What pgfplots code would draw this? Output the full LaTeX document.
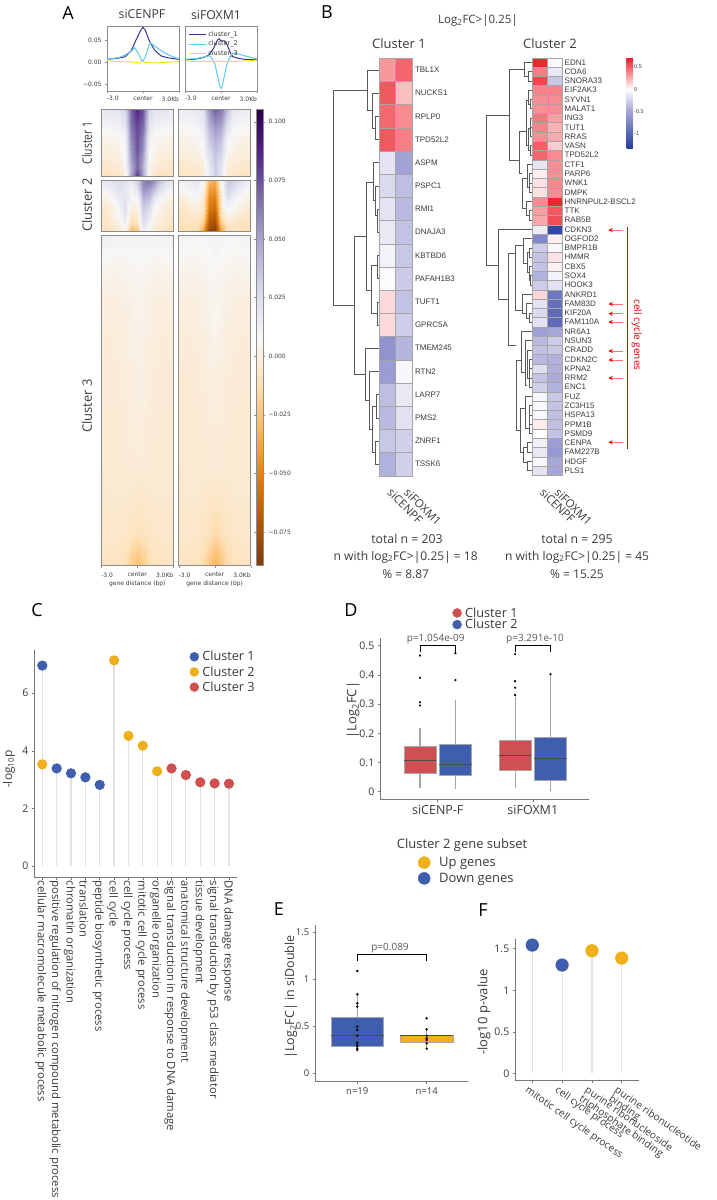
\documentclass[border=0pt]{standalone}
\usepackage{fontspec}
\usepackage{pgfplots}
\pgfplotsset{compat=1.18}
\usepgfplotslibrary{statistics}
\usetikzlibrary{arrows.meta}
\setmainfont{Open Sans}
\newfontfamily\dv{DejaVu Sans}
\newfontfamily\lib{Liberation Sans}
\newcommand{\fs}[1]{\fontsize{#1}{#1}\selectfont}
\newcommand{\tx}[4][]{\node[text=txt,#1] at (#2pt,-#3pt) {#4};}
\newcommand{\lft}[1]{\makebox[0pt][l]{#1}}
\newcommand{\rgt}[1]{\makebox[0pt][r]{#1}}
\definecolor{blueC}{HTML}{3F5FAE}
\definecolor{redC}{HTML}{CF5050}
\definecolor{yelC}{HTML}{F0B01C}
\definecolor{stem}{HTML}{E2E2E2}
\definecolor{axc}{HTML}{777777}
\definecolor{txt}{HTML}{3A3A3A}
\definecolor{frm}{HTML}{8C8C8C}
\definecolor{prof1}{HTML}{3B3591}
\definecolor{prof2}{HTML}{5CC8EE}
\definecolor{prof3}{HTML}{F5E322}
\pgfplotsset{
  colormap={puor}{rgb255=(127,59,8) rgb255=(179,88,6) rgb255=(224,130,20) rgb255=(253,184,99) rgb255=(254,224,182) rgb255=(247,247,247) rgb255=(216,218,235) rgb255=(178,171,210) rgb255=(128,115,172) rgb255=(84,39,136) rgb255=(45,0,75)},
  colormap={bwr}{rgb255(0cm)=(40,62,160); rgb255(0.82cm)=(162,162,214); rgb255(1.32cm)=(255,255,255); rgb255(2.03cm)=(237,28,36)},
  px/.style={scale only axis,anchor=north west},
  /pgfplots/table/hm/.style={header=false,row sep=crcr,x expr={mod(\coordindex,13)},y expr={floor(\coordindex/13)},meta index=0},
  profile/.style={px,width=72pt,height=65pt,xmin=-3,xmax=3,ymin=-0.066,ymax=0.082,xtick={-3,0,3},xticklabels={\lft{-3.0},center,\rgt{3.0Kb}},
    axis line style={draw=frm,line width=0.9pt},tick style={draw=frm,line width=0.5pt},tick align=outside,major tick length=2pt,
    tick label style={font=\dv\fs{6},text=txt},xtick pos=bottom,ytick pos=left,no markers,scaled y ticks=false},
  tss/.style={px,width=72pt,colormap name=puor,point meta min=-0.0894,point meta max=0.1053,xmin=0,xmax=12,y dir=reverse,
    axis line style={draw=frm,line width=1pt},xtick=\empty,ytick=\empty,axis on top},
  tssb/.style={xtick={0,6,12},xticklabels={\lft{-3.0},center,\rgt{3.0Kb}},xtick pos=bottom,tick align=outside,major tick length=2pt,tick style={draw=frm},
    xticklabel style={font=\dv\fs{6},text=txt,yshift=-1.5pt},xlabel={gene distance (bp)},xlabel style={font=\dv\fs{6},text=txt,yshift=3pt}},
  hmap/.style={surf,shader=interp,mesh/cols=13,point meta=explicit},
  genes/.style={px,colormap name=bwr,point meta min=-1.32,point meta max=0.71,xmin=-0.5,xmax=1.5,y dir=reverse,clip=false,
    axis line style={draw=none},xtick={0,1},xticklabels={siCENPF,siFOXM1},
    yticklabel pos=right,major tick length=0pt,
    yticklabel style={font=\lib\fs{8},text=txt,inner sep=1pt,xshift=1.5pt},
    xticklabel style={font=\fs{11.5},text=txt,rotate=-45,anchor=north west,inner sep=0pt,yshift=-4.5pt,xshift=12pt}},
  gmat/.style={scatter,only marks,point meta=explicit,mark=square*,scatter/use mapped color={draw=black!35,fill=mapped color}},
  clean/.style={px,axis lines*=left,axis line style={draw=axc,line width=0.9pt},tick style={draw=axc,line width=0.6pt},
    tick align=outside,major tick length=2.5pt,tick label style={font=\fs{10.5},text=txt},
    /pgf/number format/assume math mode=true,clip=false},
  lolli/.style={ycomb,color=stem,line width=1.2pt,mark=*,mark size=#1,forget plot},
  boxes/.style={boxplot/draw direction=y,boxplot/every whisker/.style={draw=black!35,line width=1.2pt},
    boxplot/every median/.style={draw=black!70,line width=1pt},
    boxplot/every box/.style={draw=black!35,line width=0.7pt},
    boxplot/whisker extend=0pt},
  lgd/.style={legend cell align=left,legend style={draw=none,fill=none,font=\fs{12.7},text=txt,inner sep=0pt,row sep=-1.5pt,
    nodes={inner sep=1pt},/tikz/every odd column/.append style={column sep=2.5pt}}},
}
\begin{document}
\begin{tikzpicture}
\useasboundingbox (0pt,0pt) rectangle (717pt,-1200pt);

% page-sized axis in image pixels: dendrograms and the red marks of panel B
\begin{axis}[at={(0pt,0pt)},anchor=north west,scale only axis,width=717pt,height=1200pt,xmin=0,xmax=717,ymin=0,ymax=1200,y dir=reverse,hide axis,clip=false]
% Cluster 1 tree
\addplot[draw=black!65,line width=0.8pt,unbounded coords=jump,no markers] coordinates {
(367.7,90)(333,90)(333,305)(354,305)(nan,nan)
(379,69.9)(367.7,69.9)(367.7,110)(372.7,110)(nan,nan)
(379,93.1)(372.7,93.1)(372.7,127.9)(375.7,127.9)(nan,nan)
(379,116.3)(375.7,116.3)(375.7,139.5)(379,139.5)(nan,nan)
(366.7,236.7)(354,236.7)(354,374)(365,374)(nan,nan)
(371,182.7)(366.7,182.7)(366.7,290)(371.7,290)(nan,nan)
(373.3,182.7)(371,182.7)(nan,nan)
(379,162.7)(373.3,162.7)(373.3,200)(375,200)(nan,nan)
(379,185.9)(375,185.9)(375,215)(377.3,215)(nan,nan)
(379,209.1)(377.3,209.1)(377.3,232.3)(379,232.3)(nan,nan)
(377,265)(371.7,265)(371.7,313)(377,313)(nan,nan)
(379,255.5)(377,255.5)(377,278.7)(379,278.7)(nan,nan)
(379,301.9)(377,301.9)(377,325.1)(379,325.1)(nan,nan)
(379,348.3)(365,348.3)(365,400)(369,400)(nan,nan)
(379,371.5)(369,371.5)(369,429)(372.3,429)(nan,nan)
(376,406.7)(372.3,406.7)(372.3,452)(375,452)(nan,nan)
(379,394.7)(376,394.7)(376,417.9)(379,417.9)(nan,nan)
(379,441.1)(375,441.1)(375,464.3)(379,464.3)(nan,nan)
};
% Cluster 2 tree
\addplot[draw=black!65,line width=0.8pt,unbounded coords=jump,no markers] coordinates {
(509,115)(486,115)(486,265)(498.3,265)(nan,nan)
(524.3,69)(509,69)(509,160.7)(519.3,160.7)(nan,nan)
(532.3,62.3)(524.3,62.3)(524.3,76)(528,76)(nan,nan)
(532.3,71.6)(528,71.6)(528,80.9)(532.3,80.9)(nan,nan)
(526,131)(519.3,131)(519.3,173.3)(522,173.3)(nan,nan)
(528.5,100)(526,100)(526,145)(528,145)(nan,nan)
(532.3,90.1)(528.5,90.1)(528.5,104)(530,104)(nan,nan)
(532.3,99.4)(530,99.4)(530,108.7)(532.3,108.7)(nan,nan)
(530,128)(528,128)(528,150)(530,150)(nan,nan)
(532.3,118)(530,118)(530,136.5)(532.3,136.5)(nan,nan)
(532.3,127.3)(530,127.3)(nan,nan)
(532.3,145.8)(530,145.8)(530,155.1)(532.3,155.1)(nan,nan)
(527.5,178)(522,178)(522,208)(526,208)(nan,nan)
(532.3,164.4)(527.5,164.4)(527.5,187)(529.5,187)(nan,nan)
(532.3,173.7)(529.5,173.7)(529.5,192.2)(532.3,192.2)(nan,nan)
(532.3,183)(529.5,183)(nan,nan)
(532.3,201.5)(526,201.5)(526,215)(529,215)(nan,nan)
(532.3,210.8)(529,210.8)(529,220.1)(532.3,220.1)(nan,nan)
(532.3,229.3)(498.3,229.3)(498.3,299.3)(508.3,299.3)(nan,nan)
(515,253)(508.3,253)(508.3,345)(516,345)(nan,nan)
(523.3,245)(515,245)(515,310)(522,310)(nan,nan)
(532.3,238.6)(523.3,238.6)(523.3,263)(527,263)(nan,nan)
(529,252)(527,252)(527,272)(529,272)(nan,nan)
(532.3,247.9)(529,247.9)(529,257.2)(532.3,257.2)(nan,nan)
(532.3,266.5)(529,266.5)(529,280)(530.5,280)(nan,nan)
(532.3,275.7)(530.5,275.7)(530.5,285)(532.3,285)(nan,nan)
(532.3,294.3)(522,294.3)(522,313)(526,313)(nan,nan)
(532.3,303.6)(526,303.6)(526,318)(529,318)(nan,nan)
(532.3,312.9)(529,312.9)(529,322.2)(532.3,322.2)(nan,nan)
(521,360)(516,360)(516,430)(520,430)(nan,nan)
(532.3,331.4)(521,331.4)(521,372)(525,372)(nan,nan)
(532.3,340.7)(525,340.7)(525,385)(527,385)(nan,nan)
(532.3,350)(527,350)(527,377.9)(529,377.9)(nan,nan)
(532.3,359.3)(529,359.3)(529,387.1)(532.3,387.1)(nan,nan)
(532.3,368.6)(529,368.6)(nan,nan)
(532.3,377.9)(529,377.9)(nan,nan)
(525,408)(520,408)(520,452)(523,452)(nan,nan)
(532.3,396.4)(525,396.4)(525,428)(529,428)(nan,nan)
(532.3,405.7)(529,405.7)(529,433.6)(532.3,433.6)(nan,nan)
(532.3,415)(529,415)(nan,nan)
(532.3,424.3)(529,424.3)(nan,nan)
(527,447)(523,447)(523,462)(527,462)(nan,nan)
(532.3,442.8)(527,442.8)(527,452.1)(532.3,452.1)(nan,nan)
(532.3,461.4)(527,461.4)(527,470.7)(532.3,470.7)(nan,nan)
};
% red gene marks
\addplot[red!90!black,line width=1.2pt,no markers] coordinates {(627.7,226.7)(627.7,448.7)};
\addplot[red!55,line width=0.7pt,no markers,-{Stealth[red,length=4.5pt,width=4pt]}] coordinates {(622.7,230)(608.3,230)};
\addplot[red!55,line width=0.7pt,no markers,-{Stealth[red,length=4.5pt,width=4pt]}] coordinates {(622.7,304)(608.3,304)};
\addplot[red!55,line width=0.7pt,no markers,-{Stealth[red,length=4.5pt,width=4pt]}] coordinates {(622.7,313.7)(608.3,313.7)};
\addplot[red!55,line width=0.7pt,no markers,-{Stealth[red,length=4.5pt,width=4pt]}] coordinates {(622.7,322)(608.3,322)};
\addplot[red!55,line width=0.7pt,no markers,-{Stealth[red,length=4.5pt,width=4pt]}] coordinates {(622.7,351)(608.3,351)};
\addplot[red!55,line width=0.7pt,no markers,-{Stealth[red,length=4.5pt,width=4pt]}] coordinates {(622.7,360)(608.3,360)};
\addplot[red!55,line width=0.7pt,no markers,-{Stealth[red,length=4.5pt,width=4pt]}] coordinates {(622.7,378)(608.3,378)};
\addplot[red!55,line width=0.7pt,no markers,-{Stealth[red,length=4.5pt,width=4pt]}] coordinates {(622.7,442.3)(608.3,442.3)};
\end{axis}

% A: average profiles
\begin{axis}[profile,at={(107pt,-26pt)},ytick={-0.05,0,0.05},yticklabels={−0.05,0.00,0.05}]
\addplot[prof1,line width=1pt] coordinates {(-3,.006)(-2,.009)(-1.5,.012)(-1,.025)(-.5,.055)(-.2,.072)(0,.079)(.2,.072)(.5,.05)(.8,.035)(1,.026)(1.5,.014)(2,.01)(3,.006)};
\addplot[prof2,line width=1pt] coordinates {(-3,.006)(-2,.01)(-1.5,.016)(-1,.024)(-.7,.033)(-.4,.02)(-.1,.003)(0,.003)(.2,.012)(.4,.03)(.6,.044)(1,.036)(1.5,.026)(2,.018)(2.5,.012)(3,.007)};
\addplot[prof3,line width=1pt] coordinates {(-3,.002)(-1,.0)(-.3,-.002)(0,.002)(.3,-.001)(1,-.002)(3,.001)};
\end{axis}
\begin{axis}[profile,at={(185pt,-26pt)},ytick=\empty,legend cell align=left,
  legend style={at={(0.0,0.98)},anchor=north west,draw=none,fill=none,font=\dv\fs{6.5},text=txt,row sep=-1pt}]
\addplot[prof1,line width=1pt] coordinates {(-3,.005)(-2,.007)(-1.5,.010)(-1,.016)(-.6,.032)(-.3,.05)(-.15,.053)(0,.048)(.3,.048)(.5,.04)(.8,.02)(1,.012)(1.5,.008)(2,.006)(3,.005)};
\addlegendentry{cluster\_1}
\addplot[prof2,line width=1pt] coordinates {(-3,.006)(-2,.008)(-1.5,.011)(-1,.014)(-.8,.01)(-.5,-.005)(-.3,-.03)(-.1,-.055)(0,-.06)(.1,-.055)(.3,-.03)(.5,-.005)(.8,.015)(1,.02)(1.5,.018)(2,.014)(3,.007)};
\addlegendentry{cluster\_2}
\addplot[prof3,line width=1pt] coordinates {(-3,.002)(-1,.001)(-.3,.001)(0,.002)(.3,.001)(1,.001)(3,.004)};
\addlegendentry{cluster\_3}
\end{axis}

% A: heatmaps, rows run from the top of each block
\begin{axis}[tss,at={(101.3pt,-109.3pt)},height=67.4pt,ymin=0,ymax=7]
\addplot[hmap] table[hm] {
.018\\.018\\.020\\.022\\.030\\.070\\.086\\.074\\.030\\.022\\.020\\.018\\.018\\
.014\\.014\\.015\\.016\\.024\\.068\\.082\\.070\\.024\\.016\\.015\\.014\\.014\\
.008\\.008\\.010\\.011\\.018\\.064\\.078\\.066\\.018\\.011\\.010\\.008\\.008\\
.003\\.004\\.005\\.006\\.012\\.060\\.076\\.060\\.012\\.006\\.005\\.004\\.003\\
.001\\.001\\.002\\.004\\.010\\.056\\.075\\.056\\.010\\.004\\.002\\.001\\.001\\
-.002\\-.002\\.000\\.002\\.008\\.052\\.072\\.050\\.008\\.002\\.000\\-.002\\-.002\\
-.005\\-.005\\-.004\\-.002\\.006\\.046\\.070\\.044\\.005\\-.002\\-.004\\-.005\\-.005\\
-.009\\-.009\\-.009\\-.008\\.000\\.050\\.085\\.050\\.000\\-.008\\-.009\\-.009\\-.009\\
};
\end{axis}
\begin{axis}[tss,at={(178.7pt,-109.3pt)},height=67.4pt,ymin=0,ymax=7]
\addplot[hmap] table[hm] {
.015\\.015\\.016\\.018\\.022\\.055\\.072\\.065\\.040\\.018\\.016\\.015\\.015\\
.012\\.012\\.013\\.014\\.018\\.048\\.062\\.056\\.030\\.014\\.013\\.012\\.012\\
.007\\.007\\.008\\.010\\.014\\.040\\.052\\.046\\.020\\.010\\.008\\.007\\.007\\
.003\\.003\\.005\\.006\\.010\\.034\\.046\\.038\\.012\\.006\\.005\\.003\\.003\\
.001\\.001\\.002\\.004\\.008\\.028\\.040\\.032\\.008\\.004\\.002\\.001\\.001\\
-.002\\-.002\\.000\\.001\\.005\\.022\\.036\\.026\\.005\\.001\\.000\\-.002\\-.002\\
-.005\\-.005\\-.004\\-.003\\.000\\.018\\.032\\.020\\.000\\-.003\\-.004\\-.005\\-.005\\
-.008\\-.008\\-.008\\-.007\\-.002\\.015\\.034\\.018\\-.002\\-.007\\-.008\\-.008\\-.008\\
};
\end{axis}
\begin{axis}[tss,at={(101.3pt,-180pt)},height=51.7pt,ymin=0,ymax=6]
\addplot[hmap] table[hm] {
.018\\.020\\.024\\.026\\.024\\.018\\.030\\.062\\.065\\.055\\.035\\.024\\.018\\
.010\\.012\\.018\\.024\\.018\\.010\\.022\\.056\\.052\\.036\\.020\\.014\\.010\\
.003\\.005\\.010\\.018\\.022\\.006\\.010\\.046\\.040\\.020\\.010\\.006\\.003\\
-.003\\-.002\\.003\\.012\\.024\\.002\\.002\\.036\\.028\\.008\\.003\\.000\\-.003\\
-.005\\-.004\\.001\\.008\\.020\\-.004\\-.002\\.030\\.020\\.005\\.001\\-.003\\-.005\\
-.007\\-.006\\-.002\\.003\\.014\\-.012\\-.008\\.024\\.012\\.001\\-.002\\-.005\\-.007\\
-.010\\-.009\\-.007\\-.004\\.002\\-.032\\-.028\\.016\\.005\\-.004\\-.007\\-.009\\-.010\\
};
\end{axis}
\begin{axis}[tss,at={(178.7pt,-180pt)},height=51.7pt,ymin=0,ymax=6]
\addplot[hmap] table[hm] {
.012\\.014\\.018\\.020\\.010\\-.030\\-.035\\.006\\.034\\.032\\.025\\.018\\.014\\
.006\\.008\\.012\\.014\\.004\\-.040\\-.042\\.002\\.030\\.024\\.016\\.010\\.008\\
.000\\.002\\.006\\.008\\-.002\\-.048\\-.050\\-.002\\.022\\.015\\.008\\.004\\.002\\
-.005\\-.004\\.000\\.002\\-.006\\-.054\\-.058\\-.004\\.012\\.008\\.003\\.000\\-.004\\
-.008\\-.007\\-.004\\-.003\\-.010\\-.060\\-.066\\-.008\\.006\\.002\\-.002\\-.004\\-.007\\
-.010\\-.010\\-.008\\-.008\\-.022\\-.070\\-.076\\-.022\\-.005\\-.005\\-.007\\-.008\\-.010\\
-.012\\-.012\\-.012\\-.015\\-.040\\-.082\\-.088\\-.040\\-.012\\-.010\\-.010\\-.012\\-.012\\
};
\end{axis}
\begin{axis}[tss,tssb,at={(101.3pt,-235pt)},height=330.7pt,ymin=0,ymax=10]
\addplot[hmap] table[hm] {
.014\\.013\\.012\\.012\\.011\\.011\\.012\\.011\\.011\\.012\\.012\\.013\\.014\\
.005\\.005\\.004\\.004\\.005\\.006\\.007\\.006\\.005\\.004\\.004\\.005\\.005\\
.001\\.001\\.001\\.001\\.002\\.003\\.005\\.003\\.002\\.001\\.001\\.001\\.001\\
-.001\\-.001\\-.001\\.000\\.001\\.003\\.004\\.003\\.001\\.000\\-.001\\-.001\\-.001\\
-.002\\-.002\\-.002\\-.001\\.000\\.001\\.002\\.001\\.000\\-.001\\-.002\\-.002\\-.002\\
-.002\\-.002\\-.002\\-.002\\-.001\\.001\\.002\\.001\\-.001\\-.002\\-.002\\-.002\\-.002\\
-.003\\-.003\\-.003\\-.002\\-.002\\-.001\\.000\\-.001\\-.002\\-.002\\-.003\\-.003\\-.003\\
-.003\\-.003\\-.003\\-.003\\-.002\\-.002\\-.001\\-.002\\-.002\\-.003\\-.003\\-.003\\-.003\\
-.004\\-.004\\-.004\\-.004\\-.004\\-.005\\-.006\\-.005\\-.004\\-.004\\-.004\\-.004\\-.004\\
-.005\\-.005\\-.005\\-.005\\-.006\\-.008\\-.010\\-.008\\-.006\\-.005\\-.005\\-.005\\-.005\\
-.008\\-.008\\-.008\\-.009\\-.012\\-.022\\-.028\\-.022\\-.012\\-.009\\-.008\\-.008\\-.008\\
};
\end{axis}
\begin{axis}[tss,tssb,at={(178.7pt,-235pt)},height=330.7pt,ymin=0,ymax=10,
  colorbar,colorbar style={at={(1.075,0)},anchor=south west,scale only axis,width=7pt,height=456.4pt,
    ytick={-0.075,-0.05,-0.025,0,0.025,0.05,0.075,0.1},yticklabels={−0.075,−0.050,−0.025,0.000,0.025,0.050,0.075,0.100},
    yticklabel pos=right,tick align=outside,major tick length=2pt,xtick=\empty,xlabel={},
    yticklabel style={font=\dv\fs{6},text=txt},axis line style={draw=frm,line width=0.5pt},tick style={draw=frm}}]
\addplot[hmap] table[hm] {
.011\\.011\\.010\\.010\\.010\\.011\\.012\\.011\\.010\\.010\\.010\\.011\\.011\\
.005\\.005\\.004\\.004\\.005\\.006\\.008\\.006\\.005\\.004\\.004\\.005\\.005\\
.001\\.001\\.001\\.001\\.002\\.004\\.006\\.004\\.002\\.001\\.001\\.001\\.001\\
-.001\\-.001\\-.001\\.000\\.001\\.003\\.005\\.003\\.001\\.000\\-.001\\-.001\\-.001\\
-.002\\-.002\\-.002\\-.002\\-.001\\.001\\.002\\.001\\-.001\\-.002\\-.002\\-.002\\-.002\\
-.003\\-.003\\-.002\\-.002\\-.002\\.000\\.001\\.000\\-.002\\-.002\\-.002\\-.003\\-.003\\
-.003\\-.003\\-.003\\-.003\\-.002\\-.002\\-.001\\-.002\\-.002\\-.003\\-.003\\-.003\\-.003\\
-.003\\-.003\\-.003\\-.003\\-.003\\-.002\\-.002\\-.002\\-.003\\-.003\\-.003\\-.003\\-.003\\
-.004\\-.004\\-.004\\-.004\\-.005\\-.006\\-.008\\-.006\\-.005\\-.004\\-.004\\-.004\\-.004\\
-.005\\-.005\\-.005\\-.006\\-.007\\-.010\\-.014\\-.010\\-.007\\-.006\\-.005\\-.005\\-.005\\
-.008\\-.008\\-.008\\-.010\\-.014\\-.024\\-.034\\-.024\\-.014\\-.010\\-.008\\-.008\\-.008\\
};
\end{axis}

% B: gene heatmaps (siCENPF, siFOXM1 per row)
\begin{axis}[genes,at={(379pt,-58.3pt)},width=33.3pt,height=417.4pt,ymin=-0.5,ymax=17.5,ytick={0,...,17},
  yticklabels={TBL1X,NUCKS1,RPLP0,TPD52L2,ASPM,PSPC1,RMI1,DNAJA3,KBTBD6,PAFAH1B3,TUFT1,GPRC5A,TMEM245,RTN2,LARP7,PMS2,ZNRF1,TSSK6}]
\addplot[gmat,mark size=8.33pt,mark options={yscale=1.393,line width=0.4pt}] coordinates {
(0,0)[.32](1,0)[.48](0,1)[.52](1,1)[.20](0,2)[.47](1,2)[.36](0,3)[.52](1,3)[.40]
(0,4)[-.15](1,4)[-.50](0,5)[-.20](1,5)[-.35](0,6)[-.15](1,6)[-.37](0,7)[-.12](1,7)[-.33]
(0,8)[-.07](1,8)[-.30](0,9)[-.02](1,9)[-.28](0,10)[.12](1,10)[-.33](0,11)[.12](1,11)[-.27]
(0,12)[-.62](1,12)[-.40](0,13)[-.55](1,13)[-.05](0,14)[-.35](1,14)[-.12](0,15)[-.37](1,15)[-.16]
(0,16)[-.30](1,16)[-.25](0,17)[-.42](1,17)[-.25]
};
\end{axis}
\begin{axis}[genes,at={(532.3pt,-57.7pt)},width=29.7pt,height=417.6pt,ymin=-0.5,ymax=44.5,ytick={0,...,44},
  yticklabels={EDN1,COA6,SNORA33,EIF2AK3,SYVN1,MALAT1,ING3,TUT1,RRAS,VASN,TPD52L2,CTF1,PARP6,WNK1,DMPK,HNRNPUL2-BSCL2,TTK,RAB5B,CDKN3,OGFOD2,BMPR1B,HMMR,CBX5,SOX4,HOOK3,ANKRD1,FAM83D,KIF20A,FAM110A,NR6A1,NSUN3,CRADD,CDKN2C,KPNA2,RRM2,ENC1,FUZ,ZC3H15,HSPA13,PPM1B,PSMD9,CENPA,FAM227B,HDGF,PLS1},
  colorbar,colorbar style={at={(3.178,1)},anchor=north west,scale only axis,width=6.3pt,height=90.3pt,
    ytick={-1,-0.5,0,0.5},yticklabels={-1,-0.5,0,0.5},yticklabel pos=right,major tick length=0pt,axis line style={draw=none},
    yticklabel style={font=\lib\fs{5.5},text=txt,inner sep=1pt}}]
\addplot[gmat,mark size=7.42pt,mark options={yscale=0.625,line width=0.4pt}] coordinates {
(0,0)[.68](1,0)[-.03](0,1)[.40](1,1)[-.12](0,2)[.58](1,2)[-.30](0,3)[.38](1,3)[.38]
(0,4)[.35](1,4)[.36](0,5)[.34](1,5)[.35](0,6)[.42](1,6)[.30](0,7)[.38](1,7)[.24]
(0,8)[.35](1,8)[.26](0,9)[.50](1,9)[.15](0,10)[.48](1,10)[.36](0,11)[-.14](1,11)[.35]
(0,12)[.05](1,12)[.35](0,13)[.09](1,13)[.37](0,14)[.09](1,14)[.36](0,15)[.36](1,15)[.68]
(0,16)[.30](1,16)[.52](0,17)[.27](1,17)[.55](0,18)[-.10](1,18)[-1.25](0,19)[-.72](1,19)[.05]
(0,20)[-.27](1,20)[-.03](0,21)[-.32](1,21)[.09](0,22)[-.32](1,22)[.05](0,23)[-.42](1,23)[-.07]
(0,24)[-.27](1,24)[-.15](0,25)[.13](1,25)[-.85](0,26)[-.15](1,26)[-.90](0,27)[-.20](1,27)[-.95]
(0,28)[-.15](1,28)[-.95](0,29)[-.52](1,29)[-.48](0,30)[-.37](1,30)[-.27](0,31)[-.33](1,31)[-.30]
(0,32)[-.38](1,32)[-.42](0,33)[-.17](1,33)[-.43](0,34)[-.32](1,34)[-.45](0,35)[-.25](1,35)[-.42]
(0,36)[-.05](1,36)[-.30](0,37)[-.03](1,37)[-.32](0,38)[-.03](1,38)[-.34](0,39)[.06](1,39)[-.34]
(0,40)[.01](1,40)[-.32](0,41)[-.08](1,41)[-.55](0,42)[-.12](1,42)[-.58](0,43)[-.03](1,43)[-.47]
(0,44)[-.15](1,44)[-.48]
};
\end{axis}

% C
\begin{axis}[clean,at={(34.3pt,-650pt)},width=203pt,height=227pt,xmin=-0.557,xmax=13.58,ymin=-0.38,ymax=7.5,ytick={0,2,4,6},
  xtick={0,...,13},xticklabels={cellular macromolecule metabolic process,positive regulation of nitrogen compound metabolic process,chromatin organization,translation,peptide biosynthetic process,cell cycle,cell cycle process,mitotic cell cycle process,organelle organization,signal transduction in response to DNA damage,anatomical structure development,tissue development,signal transduction by p53 class mediator,DNA damage response},
  xticklabel style={font=\fs{11.3},rotate=-90,anchor=west,inner sep=1pt,text=txt,yshift=-1.5pt},
  lgd,legend style={at={(0.765,1.0)},anchor=north west,row sep=2pt}]
\addplot[lolli=4.5pt,mark options={fill=blueC,draw=blueC}] coordinates {(0,6.96)(1,3.39)(2,3.22)(3,3.08)(4,2.82)};
\addplot[lolli=4.5pt,mark options={fill=yelC,draw=yelC}] coordinates {(0,3.53)(5,7.14)(6,4.52)(7,4.18)(8,3.29)};
\addplot[lolli=4.5pt,mark options={fill=redC,draw=redC}] coordinates {(9,3.39)(10,3.16)(11,2.91)(12,2.87)(13,2.86)};
\addlegendimage{only marks,mark=*,mark size=4.5pt,mark options={fill=blueC,draw=blueC}}\addlegendentry{Cluster 1}
\addlegendimage{only marks,mark=*,mark size=4.5pt,mark options={fill=yelC,draw=yelC}}\addlegendentry{Cluster 2}
\addlegendimage{only marks,mark=*,mark size=4.5pt,mark options={fill=redC,draw=redC}}\addlegendentry{Cluster 3}
\end{axis}

% D
\begin{axis}[clean,boxes,at={(380.3pt,-638.3pt)},width=209pt,height=160.7pt,xmin=0.396,xmax=2.594,ymin=-0.025,ymax=0.525,
  ytick={0,0.1,0.2,0.3,0.4,0.5},yticklabels={0,0.1,0.2,0.3,0.4,0.5},xtick={1,2},xticklabels={siCENP-F,siFOXM1},
  xticklabel style={font=\fs{12.5}},lgd,legend style={at={(0.345,1.2)},anchor=north west}]
\addplot[forget plot,boxplot prepared={draw position=0.814,lower whisker=.0126,lower quartile=.064,median=.107,upper quartile=.156,upper whisker=.219,box extend=.34},fill=redC,mark=*,mark size=0.9pt,mark options={black}] coordinates {(0,.466)(0,.39)(0,.306)(0,.295)};
\addplot[forget plot,boxplot prepared={draw position=1.186,lower whisker=.009,lower quartile=.056,median=.092,upper quartile=.163,upper whisker=.314,box extend=.34},fill=blueC,mark=*,mark size=0.9pt,mark options={black}] coordinates {(0,.474)(0,.382)};
\addplot[forget plot,boxplot prepared={draw position=1.814,lower whisker=.0126,lower quartile=.074,median=.124,upper quartile=.175,upper whisker=.325,box extend=.34},fill=redC,mark=*,mark size=0.9pt,mark options={black}] coordinates {(0,.471)(0,.378)(0,.356)(0,.331)};
\addplot[forget plot,boxplot prepared={draw position=2.186,lower whisker=.003,lower quartile=.04,median=.115,upper quartile=.185,upper whisker=.40,box extend=.34},fill=blueC,mark=*,mark size=0.9pt,mark options={black}] coordinates {(0,.402)};
\addplot[forget plot,black,line width=1pt,no markers] coordinates {(0.814,.478)(0.814,.5)(1.186,.5)(1.186,.478)};
\addplot[forget plot,black,line width=1pt,no markers] coordinates {(1.814,.478)(1.814,.5)(2.186,.5)(2.186,.478)};
\addlegendimage{only marks,mark=*,mark size=4.5pt,mark options={fill=redC,draw=redC}}\addlegendentry{Cluster 1}
\addlegendimage{only marks,mark=*,mark size=4.5pt,mark options={fill=blueC,draw=blueC}}\addlegendentry{Cluster 2}
\end{axis}

% legend of the E/F colours
\begin{axis}[px,at={(418pt,-856pt)},width=90pt,height=30pt,hide axis,xmin=0,xmax=1,ymin=0,ymax=1,lgd,
  legend style={at={(0,1)},anchor=north west,row sep=3pt,font=\fs{13},/tikz/every odd column/.append style={column sep=8pt}}]
\addlegendimage{only marks,mark=*,mark size=6pt,mark options={fill=yelC,draw=yelC}}\addlegendentry{Up genes}
\addlegendimage{only marks,mark=*,mark size=6pt,mark options={fill=blueC,draw=blueC}}\addlegendentry{Down genes}
\end{axis}

% E
\begin{axis}[clean,boxes,at={(315.3pt,-925pt)},width=153pt,height=156.3pt,xmin=0.395,xmax=2.6,ymin=-0.085,ymax=1.574,
  ytick={0,0.5,1,1.5},yticklabels={0,0.5,1,1.5},xtick={1,2},xticklabels={n=19,n=14},tick label style={font=\fs{9.5}}]
\addplot[boxplot prepared={draw position=1,lower whisker=.29,lower quartile=.29,median=.396,upper quartile=.598,upper whisker=.839,box extend=.758},fill=blueC] coordinates {};
\addplot[boxplot prepared={draw position=2,lower whisker=.262,lower quartile=.333,median=.396,upper quartile=.40,upper whisker=.467,box extend=.758},fill=yelC] coordinates {};
\addplot[only marks,mark=*,mark size=1pt,black] coordinates {(1,1.086)(1,.839)(1,.743)(1,.708)(1,.495)(1,.46)(1,.40)(1,.325)(1,.30)(1,.283)(1,.262)(1,.248)};
\addplot[only marks,mark=*,mark size=1pt,black] coordinates {(2,.584)(2,.467)(2,.40)(2,.37)(2,.354)(2,.318)(2,.262)};
\addplot[black,line width=1pt,no markers] coordinates {(1,1.196)(1,1.256)(2,1.256)(2,1.196)};
\end{axis}

% F
\begin{axis}[clean,at={(515.3pt,-939pt)},width=124pt,height=141pt,xmin=0.43,xmax=4.59,ymin=-0.08,ymax=1.617,
  ytick={0,0.5,1,1.5},yticklabels={0,0.5,1,1.5},xtick={1,2,3,4},
  xticklabels={mitotic cell cycle process,cell cycle process,{purine ribonucleoside\\triphosphate binding},{purine ribonucleotide\\binding}},
  xticklabel style={font=\fs{10.2},rotate=-35,anchor=north west,align=left,inner sep=0pt,yshift=-4pt,xshift=-1pt,text=txt}]
\addplot[lolli=6pt,mark options={fill=blueC,draw=blueC}] coordinates {(1,1.544)(2,1.304)};
\addplot[lolli=6pt,mark options={fill=yelC,draw=yelC}] coordinates {(3,1.476)(4,1.388)};
\end{axis}

% panel letters, titles and running text
\tx[font=\fs{18},text=black]{68}{13}{A}
\tx[font=\fs{18},text=black]{327}{12}{B}
\tx[font=\fs{18},text=black]{37}{610}{C}
\tx[font=\fs{18},text=black]{351}{610}{D}
\tx[font=\fs{18},text=black]{279}{909}{E}
\tx[font=\fs{18},text=black]{483}{910}{F}
\tx[font=\fs{12.3}]{142}{14}{siCENPF}
\tx[font=\fs{12.3}]{216}{15}{siFOXM1}
\tx[font=\fs{13},rotate=90,xscale=0.8]{87}{143}{Cluster 1}
\tx[font=\fs{13},rotate=90]{87}{205}{Cluster 2}
\tx[font=\fs{13},rotate=90]{87}{406}{Cluster 3}
\tx[font=\fs{11.5}]{478}{21}{Log\textsubscript{2}FC>|0.25|}
\tx[font=\fs{13}]{399}{44}{Cluster 1}
\tx[font=\fs{13}]{550}{44}{Cluster 2}
\tx[font=\fs{12.3}]{407}{539}{total n = 203}
\tx[font=\fs{12}]{405.7}{557}{n with log\textsubscript{2}FC>|0.25| = 18}
\tx[font=\fs{12}]{405.7}{574}{\% = 8.87}
\tx[font=\fs{12.3}]{577}{539}{total n = 295}
\tx[font=\fs{12}]{577}{557}{n with log\textsubscript{2}FC>|0.25| = 45}
\tx[font=\fs{12}]{577}{574}{\% = 15.25}
\tx[font=\fs{10},text=red!85!black,rotate=-90]{636.7}{335}{cell cycle genes}
\tx[font=\fs{12},rotate=90]{9}{769}{-log\textsubscript{10}p}
\tx[font=\fs{13},rotate=90]{353}{710}{|Log\textsubscript{2}FC|}
\tx[font=\fs{10},text=black!65]{435.7}{638.7}{p=1.054e-09}
\tx[font=\fs{10},text=black!65]{535}{638.7}{p=3.291e-10}
\tx[font=\fs{13}]{462}{845}{Cluster 2 gene subset}
\tx[font=\fs{12.5},rotate=90]{291}{997}{|Log\textsubscript{2}FC| in siDouble}
\tx[font=\fs{10},text=black!65]{390}{948}{p=0.089}
\tx[font=\fs{13},rotate=90]{484}{1012}{-log10 p-value}
\end{tikzpicture}
\end{document}
